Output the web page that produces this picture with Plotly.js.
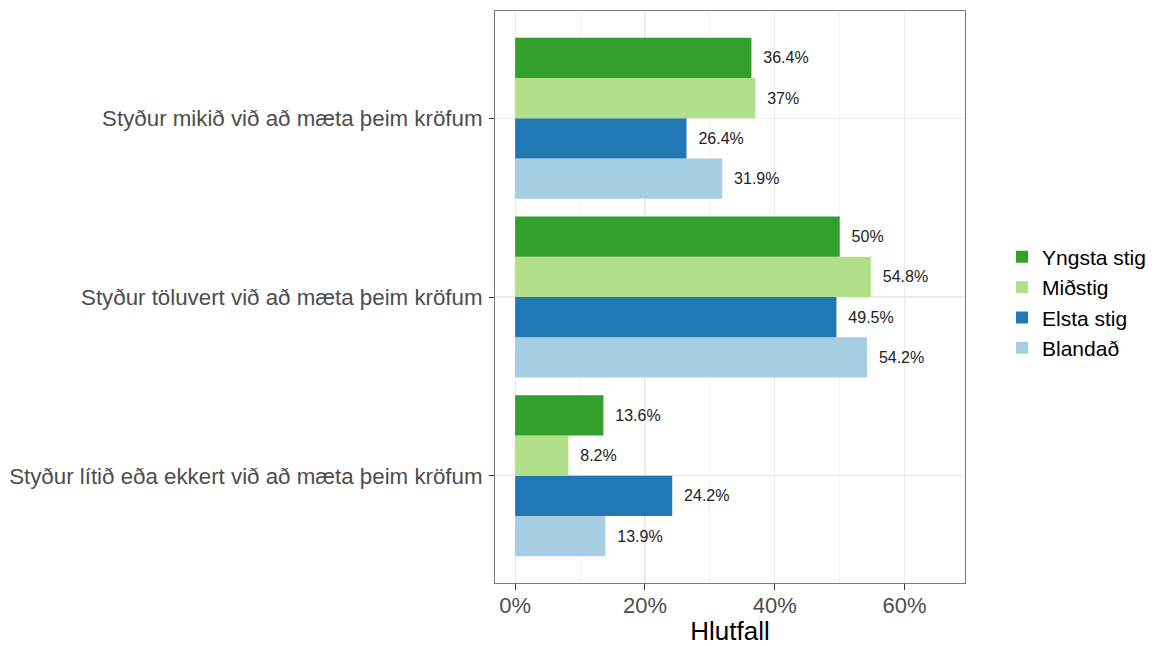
<!DOCTYPE html>
<html>
<head>
<meta charset="utf-8">
<script src="https://cdn.plot.ly/plotly-3.0.1.min.js"></script>
<style>html,body{margin:0;padding:0;background:#fff;}#chart{width:1158px;height:646px;}</style>
</head>
<body>
<div id="chart"></div>
<script>
// Categories (top to bottom as shown)
const categories = [
  "Styður mikið við að mæta þeim kröfum",
  "Styður töluvert við að mæta þeim kröfum",
  "Styður lítið eða ekkert við að mæta þeim kröfum"
];
// Series values (percent), same order as categories
const yngsta = [36.4, 50, 13.6];
const midstig = [37, 54.8, 8.2];
const elsta = [26.4, 49.5, 24.2];
const blandad = [31.9, 54.2, 13.9];

const seriesNames = ["Yngsta stig", "Miðstig", "Elsta stig", "Blandað"];
const seriesValues = [yngsta, midstig, elsta, blandad];
const seriesColors = ["#33a02c", "#b2df8a", "#1f78b4", "#a6cee3"];
const xTickVals = [0, 20, 40, 60];
const xTickText = ["0%", "20%", "40%", "60%"];

const FONT = "Liberation Sans, Arial, sans-serif";

// Plotly puts the first trace of a horizontal group at the bottom, so add in reverse
const traces = [];
for (let i = seriesNames.length - 1; i >= 0; i--) {
  traces.push({
    type: "bar",
    orientation: "h",
    name: seriesNames[i],
    y: categories,
    x: seriesValues[i],
    marker: {color: seriesColors[i], line: {width: 0}},
    text: seriesValues[i].map(v => "\u00a0\u00a0" + v + "%"),
    texttemplate: "%{text}",
    textposition: "outside",
    constraintext: "none",
    cliponaxis: false,
    outsidetextfont: {family: FONT, size: 16, color: "#222222"},
    hoverinfo: "name+x"
  });
}

const layout = {
  width: 1158,
  height: 646,
  margin: {l: 495, r: 193, t: 11, b: 63, pad: 0, autoexpand: false},
  paper_bgcolor: "#ffffff",
  plot_bgcolor: "#ffffff",
  barmode: "group",
  bargap: 0.1,
  bargroupgap: 0,
  font: {family: FONT, color: "#000"},
  showlegend: true,
  legend: {
    traceorder: "reversed",
    xref: "container",
    x: 0.8653, xanchor: "left",
    y: 0.49, yanchor: "middle",
    font: {family: FONT, size: 21, color: "#000"},
    bgcolor: "rgba(0,0,0,0)",
    borderwidth: 0
  },
  xaxis: {
    range: [-3.1, 69.3],
    automargin: false,
    tickmode: "array",
    tickvals: xTickVals,
    ticktext: xTickText,
    tickfont: {family: FONT, size: 22, color: "#4d4d4d"},
    ticks: "outside",
    ticklen: 6,
    tickcolor: "#333333",
    tickwidth: 1,
    ticklabelstandoff: -3,
    showgrid: true,
    gridcolor: "#ebebeb",
    gridwidth: 1.2,
    minor: {tickmode: "array", tickvals: [10, 30, 50], showgrid: true, gridcolor: "#ebebeb", gridwidth: 0.6, ticks: ""},
    zeroline: false,
    showline: true,
    mirror: true,
    linecolor: "#7a7a7a",
    linewidth: 1,
    title: {text: "Hlutfall", font: {family: FONT, size: 26, color: "#000"}, standoff: 8},
    fixedrange: true
  },
  yaxis: {
    type: "category",
    automargin: false,
    categoryorder: "array",
    categoryarray: categories.slice().reverse(),
    range: [-0.6, 2.6],
    tickfont: {family: FONT, size: 22.3, color: "#4d4d4d"},
    ticks: "outside",
    ticklen: 5,
    tickcolor: "#333333",
    tickwidth: 1,
    ticklabelstandoff: 2,
    showgrid: true,
    gridcolor: "#ebebeb",
    gridwidth: 1.2,
    zeroline: false,
    showline: true,
    mirror: true,
    linecolor: "#7a7a7a",
    linewidth: 1,
    fixedrange: true
  }
};

Plotly.newPlot("chart", traces, layout, {staticPlot: true, displayModeBar: false});
</script>
</body>
</html>
